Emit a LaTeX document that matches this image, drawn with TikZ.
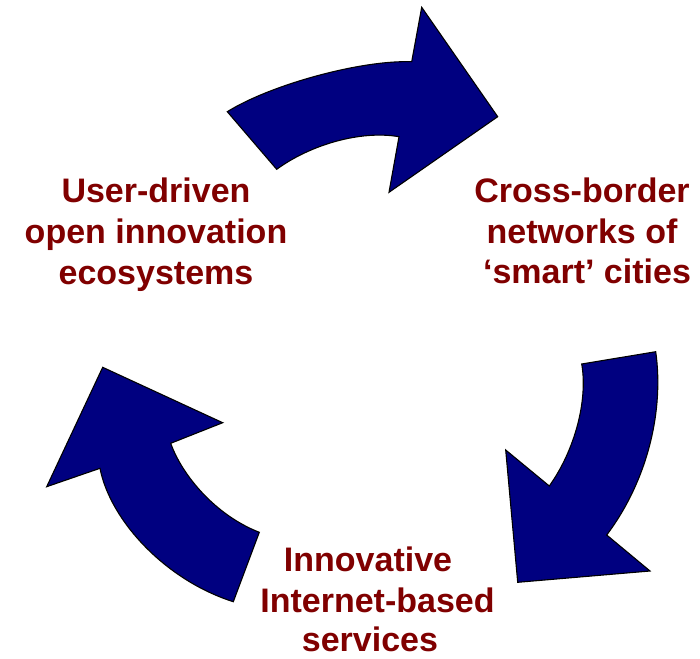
\documentclass[tikz,border=0pt]{standalone}
\usepackage{fontspec}
\setmainfont{Liberation Sans}
\definecolor{darkred}{RGB}{128,0,0}
\definecolor{navyfill}{RGB}{0,0,128}
\tikzset{
  cyclearrow/.style={fill=navyfill, draw=black, line width=1.1pt, line join=miter},
  label/.style={text=darkred, font=\fontsize{34}{41}\selectfont\bfseries, anchor=base, inner sep=0pt}
}
\begin{document}
\begin{tikzpicture}[x=1pt,y=-1pt]
\useasboundingbox (0,0) rectangle (700,658);
% top arrow
\path[cyclearrow] (276.7,169.3) -- (227.3,111.7)
  .. controls (270,85) and (360,60) .. (411.7,61.7)
  -- (421.7,7.3) -- (497.7,116.7) -- (389,192.3) -- (399,136.7)
  .. controls (360,130) and (310,145) .. (276.7,169.3) -- cycle;
% right arrow
\path[cyclearrow] (581.7,364) -- (655.7,351.7)
  .. controls (664,410) and (648,480) .. (606.7,535)
  -- (650,571) -- (517.7,582.3) -- (505.7,450) -- (549.3,486)
  .. controls (575,450) and (588,400) .. (581.7,364) -- cycle;
% left arrow
\path[cyclearrow] (102.7,367.3) -- (222.7,422.7) -- (170.7,443.3)
  .. controls (182,475) and (215,515) .. (259.3,532.3)
  -- (233.3,601.7)
  .. controls (165,580) and (110,520) .. (100,468.3)
  -- (46.7,486.7) -- cycle;
% labels
\node[label] (l1) at (156,202) {User-driven};
\node[label] (l2) at (156,243) {open innovation};
\node[label] (l3) at (156,284) {ecosystems};
\node[label] (r1) at (582,202) {Cross-border};
\node[label] (r2) at (582,243) {networks of};
\node[label] (r3) at (587,283) {‘smart’ cities};
\node[label] (b1) at (368,571) {Innovative};
\node[label] (b2) at (377.5,612) {Internet-based};
\node[label] (b3) at (370,651) {services};
\end{tikzpicture}
\end{document}
